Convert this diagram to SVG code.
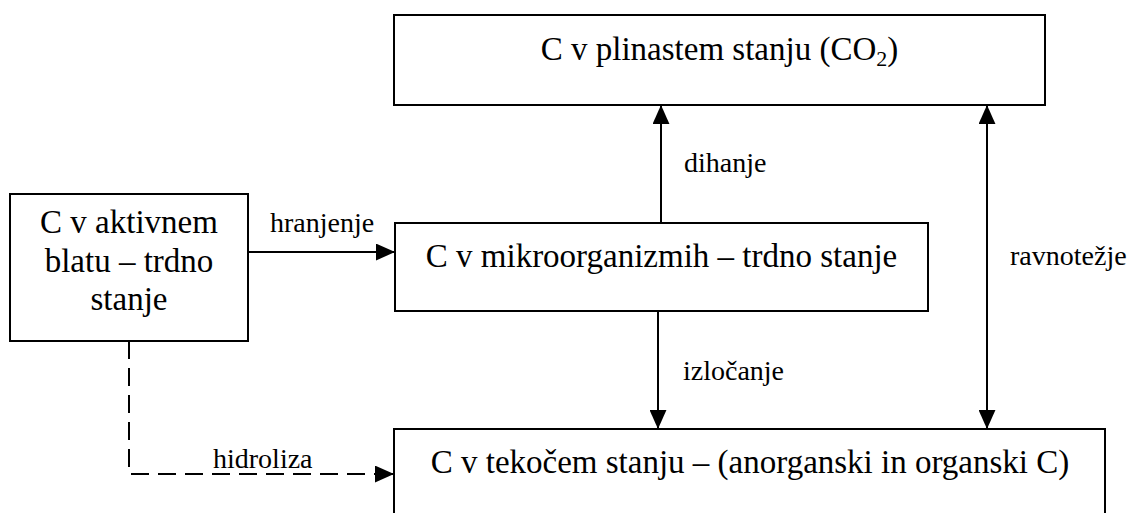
<svg xmlns="http://www.w3.org/2000/svg" width="1135" height="513" viewBox="0 0 1135 513">
  <style>
    .box { fill: #fff; stroke: #000; stroke-width: 2; }
    .nt { font-size: 33px; fill: #000; text-anchor: middle; }
    .lb { font-size: 28px; fill: #000; }
    .ln { fill: none; stroke: #000; stroke-width: 2; }
    .dash { stroke-dasharray: 18 9; }
  </style>
  <defs>
    <marker id="arr" viewBox="0 0 18 16" refX="18" refY="8" markerWidth="19" markerHeight="17" markerUnits="userSpaceOnUse" orient="auto-start-reverse">
      <path d="M0,0 L18,8 L0,16 z" fill="#000"/>
    </marker>
  </defs>
  <rect width="1135" height="513" fill="#fff"/>

  <g font-family="'Liberation Serif', 'Times New Roman', 'DejaVu Serif', serif">
  <g id="node-gas">
    <rect class="box" x="394" y="15" width="651" height="90"/>
    <text class="nt" x="719.5" y="60">C v plinastem stanju (CO<tspan font-size="22" dy="6">2</tspan><tspan dy="-6">)</tspan></text>
  </g>

  <g id="node-blato">
    <rect class="box" x="10" y="194" width="238" height="147"/>
    <text class="nt" x="129" y="233">C v aktivnem</text>
    <text class="nt" x="129" y="272">blatu – trdno</text>
    <text class="nt" x="129" y="310">stanje</text>
  </g>

  <g id="node-mikro">
    <rect class="box" x="395" y="223" width="533" height="88"/>
    <text class="nt" x="661.5" y="267">C v mikroorganizmih – trdno stanje</text>
  </g>

  <g id="node-tekoce">
    <rect class="box" x="394" y="429" width="711" height="100"/>
    <text class="nt" x="750" y="473">C v tekočem stanju – (anorganski in organski C)</text>
  </g>

  <g id="connectors">
    <line class="ln" x1="248" y1="252" x2="395" y2="252" marker-end="url(#arr)"/>
    <line class="ln" x1="661" y1="223" x2="661" y2="105" marker-end="url(#arr)"/>
    <line class="ln" x1="658" y1="311" x2="658" y2="429" marker-end="url(#arr)"/>
    <line class="ln" x1="987" y1="105" x2="987" y2="429" marker-start="url(#arr)" marker-end="url(#arr)"/>
    <path class="ln dash" d="M129,341 L129,474 L385,474"/>
    <line class="ln" x1="380" y1="474" x2="394" y2="474" marker-end="url(#arr)"/>
    <text class="lb" x="270" y="232">hranjenje</text>
    <text class="lb" x="684" y="172">dihanje</text>
    <text class="lb" x="683" y="380">izločanje</text>
    <text class="lb" x="1010" y="265">ravnotežje</text>
    <text class="lb" x="213" y="468">hidroliza</text>
  </g>
  </g>
</svg>
